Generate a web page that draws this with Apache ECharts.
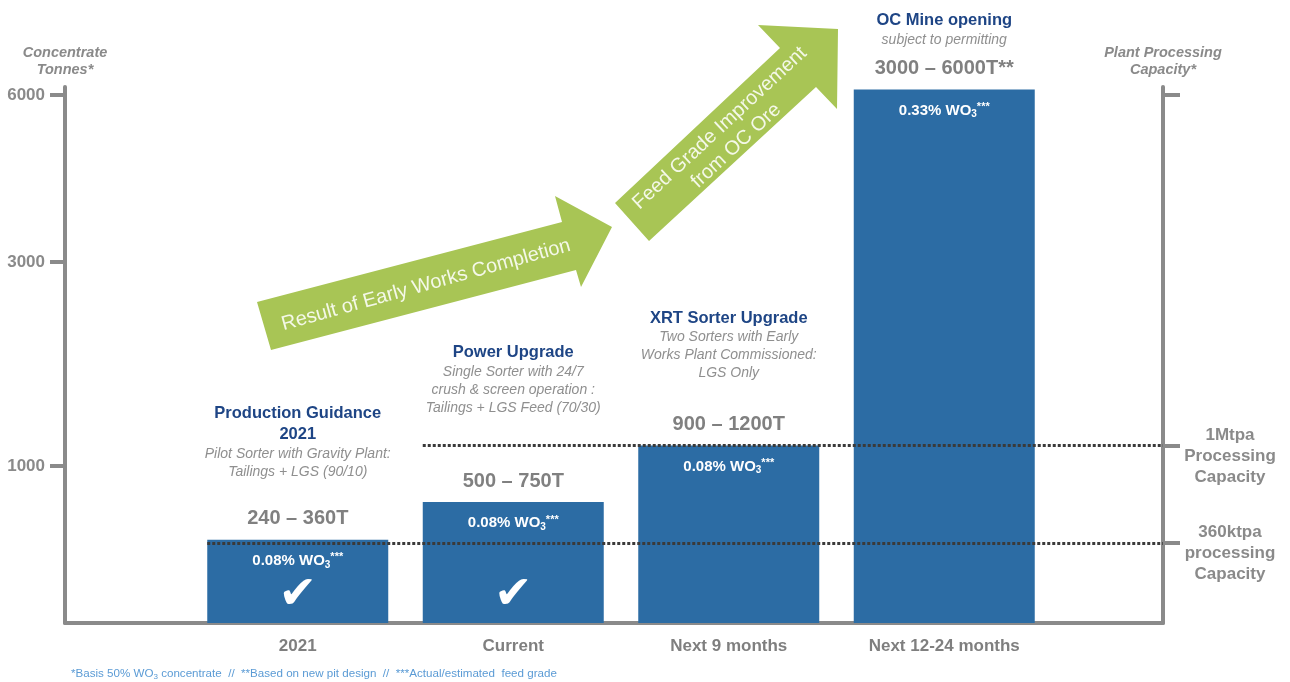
<!DOCTYPE html>
<html><head><meta charset="utf-8">
<script src="https://cdn.jsdelivr.net/npm/echarts@6/dist/echarts.min.js"></script>
<style>html,body{margin:0;padding:0;background:#fff}#c{width:1290px;height:682px}</style>
</head><body><div id="c"></div>
<script>
// ---------------- data ----------------
const categories = ['2021', 'Current', 'Next 9 months', 'Next 12-24 months'];
const barTonnes = [530, 770, 1200, 6100];
const rangeLabels = ['240 \u2013 360T', '500 \u2013 750T', '900 \u2013 1200T', '3000 \u2013 6000T**'];
const stageTitles = [['Production Guidance', '2021'], ['Power Upgrade'], ['XRT Sorter Upgrade'], ['OC Mine opening']];
const stageNotes = [
  ['Pilot Sorter with Gravity Plant:', 'Tailings + LGS (90/10)'],
  ['Single Sorter with 24/7', 'crush & screen operation :', 'Tailings + LGS Feed (70/30)'],
  ['Two Sorters with Early', 'Works Plant Commissioned:', 'LGS Only'],
  ['subject to permitting']
];
const feedGrades = ['0.08%', '0.08%', '0.08%', '0.33%'];
const completed = [true, true, false, false];
const yTicks = [1000, 3000, 6000];
const capacityLevels = [510, 1200];
const capacityNames = ['360ktpa\nprocessing\nCapacity', '1Mtpa\nProcessing\nCapacity'];
const capacityFromCategory = [0, 1];
const arrowTexts = ['Result of Early Works Completion', 'Feed Grade Improvement\nfrom OC Ore'];
const footnote = ['*Basis 50% WO', '3', ' concentrate  //  **Based on new pit design  //  ***Actual/estimated  feed grade'];

// ---------------- scale (piecewise, as drawn in the original) ----------------
const SCALE_T = [0, 1000, 3000, 6000];
const SCALE_U = [0, 157, 361, 528];
function scaleT(t) {
  for (let i = 1; i < SCALE_T.length; i++) {
    if (t <= SCALE_T[i] || i === SCALE_T.length - 1) {
      const f = (t - SCALE_T[i - 1]) / (SCALE_T[i] - SCALE_T[i - 1]);
      return SCALE_U[i - 1] + f * (SCALE_U[i] - SCALE_U[i - 1]);
    }
  }
}
const Y_MAX = 536;

// ---------------- layout ----------------
const W = 1290, H = 682;
const FRAME_L = 65, FRAME_R = 1163, TOP = 87, BASE = 623;
const BAR_L = 190, BAR_R = 1052, BAR_W = 181;
const FONT = '"Liberation Sans", Arial, sans-serif';
const GRAY = '#8A8A8A';
const BLUE = '#2C6CA4';
const TITLE_BLUE = '#1E4585';
const titleGap = [59, 85, 63, 40];

const tickU = yTicks.map(scaleT);
const capU = capacityLevels.map(scaleT);
const spacing = (BAR_R - BAR_L) / categories.length;
function barLeftFrac(i) {
  const px = BAR_L + (i + 0.5) * spacing - BAR_W / 2;
  return (px - FRAME_L) / (FRAME_R - FRAME_L);
}
function findIdx(arr, v) { return arr.findIndex(u => Math.abs(u - v) < 0.5); }

const chart = echarts.init(document.getElementById('c'), null, { renderer: 'canvas' });

const titleText = categories.map((c, i) => {
  const a = stageTitles[i].map(s => '{t|' + s + '}');
  const b = stageNotes[i].map(s => '{s|' + s + '}');
  return a.concat(b).join('\n');
});

const option = {
  animation: false,
  backgroundColor: '#ffffff',
  textStyle: { fontFamily: FONT },
  title: {
    text: '{a|' + footnote[0] + '}{b|' + footnote[1] + '}{a|' + footnote[2] + '}',
    left: 66, top: 662,
    textStyle: {
      fontWeight: 'normal',
      rich: {
        a: { fontSize: 11.6, fontWeight: 'normal', color: '#5B9BD5', fontFamily: FONT, lineHeight: 14 },
        b: { fontSize: 8, fontWeight: 'normal', color: '#5B9BD5', fontFamily: FONT, lineHeight: 8, verticalAlign: 'bottom' }
      }
    }
  },
  grid: [
    { left: FRAME_L, right: W - FRAME_R, top: TOP, bottom: H - BASE },
    { left: BAR_L, right: W - BAR_R, top: TOP, bottom: H - BASE }
  ],
  xAxis: [
    { type: 'value', gridIndex: 0, min: 0, max: 1,
      axisLine: { show: true, lineStyle: { color: GRAY, width: 4 } },
      axisTick: { show: false }, axisLabel: { show: false }, splitLine: { show: false } },
    { type: 'category', gridIndex: 1, data: categories,
      axisLine: { show: false }, axisTick: { show: false },
      axisLabel: { fontSize: 17, fontWeight: 'bold', color: '#7F7F7F', margin: 15, fontFamily: FONT } }
  ],
  yAxis: [
    { type: 'value', gridIndex: 0, position: 'left', min: 0, max: Y_MAX,
      name: 'Concentrate\nTonnes*', nameLocation: 'end', nameGap: 9,
      nameTextStyle: { fontSize: 14.5, fontWeight: 'bold', fontStyle: 'italic', color: GRAY, lineHeight: 17, fontFamily: FONT },
      axisLine: { show: true, lineStyle: { color: GRAY, width: 4 } },
      axisTick: { show: true, length: 15, customValues: tickU, lineStyle: { color: GRAY, width: 4 } },
      axisLabel: { customValues: tickU, fontSize: 17, fontWeight: 'bold', color: GRAY, margin: 20, fontFamily: FONT,
        formatter: v => { const i = findIdx(tickU, v); return i >= 0 ? String(yTicks[i]) : ''; } },
      splitLine: { show: false } },
    { type: 'value', gridIndex: 0, position: 'right', min: 0, max: Y_MAX,
      name: 'Plant Processing\nCapacity*', nameLocation: 'end', nameGap: 9,
      nameTextStyle: { fontSize: 14.5, fontWeight: 'bold', fontStyle: 'italic', color: GRAY, lineHeight: 17, fontFamily: FONT },
      axisLine: { show: true, lineStyle: { color: GRAY, width: 4 } },
      axisTick: { show: true, length: 17, customValues: capU.concat([tickU[tickU.length - 1]]), lineStyle: { color: GRAY, width: 4 } },
      axisLabel: { customValues: capU, fontSize: 17, fontWeight: 'bold', color: GRAY, margin: 67, align: 'center',
        lineHeight: 21, fontFamily: FONT,
        formatter: v => { const i = findIdx(capU, v); return i >= 0 ? ' \n' + capacityNames[i] : ''; } },
      splitLine: { show: false } },
    { type: 'value', gridIndex: 1, min: 0, max: Y_MAX, show: false }
  ],
  series: [
    { type: 'bar', xAxisIndex: 1, yAxisIndex: 2, barWidth: BAR_W, barGap: '-100%', z: 2,
      itemStyle: { color: BLUE },
      data: barTonnes.map(scaleT),
      label: { show: true, position: 'top', distance: 10, fontSize: 20, fontWeight: 'bold', color: '#808080', lineHeight: 22, fontFamily: FONT,
        formatter: p => rangeLabels[p.dataIndex] } },
    { type: 'bar', xAxisIndex: 1, yAxisIndex: 2, barWidth: BAR_W, barGap: '-100%', silent: true, z: 3,
      itemStyle: { color: 'rgba(0,0,0,0)' },
      data: barTonnes.map((t, i) => ({ value: scaleT(t), label: { distance: titleGap[i] } })),
      label: { show: true, position: 'top', align: 'center',
        formatter: p => titleText[p.dataIndex],
        rich: {
          t: { fontSize: 16.5, fontWeight: 'bold', color: TITLE_BLUE, lineHeight: 21, fontFamily: FONT, align: 'center' },
          s: { fontSize: 14, fontStyle: 'italic', color: '#8F8F8F', lineHeight: 18, fontFamily: FONT, align: 'center' }
        } } },
    { type: 'bar', xAxisIndex: 1, yAxisIndex: 2, barWidth: BAR_W, barGap: '-100%', silent: true, z: 3,
      itemStyle: { color: 'rgba(0,0,0,0)' },
      data: barTonnes.map(scaleT),
      label: { show: true, position: 'insideTop', distance: 12,
        formatter: p => '{m|' + feedGrades[p.dataIndex] + ' WO}{sub|3}{sup|***}',
        rich: {
          m: { fontSize: 15, fontWeight: 'bold', color: '#ffffff', lineHeight: 18, fontFamily: FONT },
          sub: { fontSize: 10, fontWeight: 'bold', color: '#ffffff', lineHeight: 10, verticalAlign: 'bottom', fontFamily: FONT },
          sup: { fontSize: 11, fontWeight: 'bold', color: '#ffffff', lineHeight: 10, verticalAlign: 'top', fontFamily: FONT }
        } } },
    { type: 'bar', xAxisIndex: 1, yAxisIndex: 2, barWidth: BAR_W, barGap: '-100%', silent: true, z: 3,
      itemStyle: { color: 'rgba(0,0,0,0)' },
      data: barTonnes.map(scaleT),
      label: { show: true, position: 'insideBottom', distance: 4, fontSize: 46, lineHeight: 46, color: '#ffffff',
        fontFamily: '"DejaVu Sans", sans-serif',
        formatter: p => completed[p.dataIndex] ? '\u2714' : '' } },
    { type: 'line', xAxisIndex: 0, yAxisIndex: 0, data: [], z: 6,
      markLine: {
        silent: true, symbol: ['none', 'none'], z: 6,
        label: { show: false },
        lineStyle: { color: '#3A3A3A', width: 3, type: [3, 2], cap: 'butt' },
        data: capU.map((u, i) => [{ coord: [barLeftFrac(capacityFromCategory[i]), u] }, { coord: [1, u] }])
      } }
  ],
  graphic: [
    { type: 'polygon', z: 1, silent: true,
      shape: { points: [[257, 302], [562, 222], [555, 196], [612, 227], [581, 287], [576, 270], [271, 350]] },
      style: { fill: '#A8C555' } },
    { type: 'polygon', z: 1, silent: true,
      shape: { points: [[615, 203], [780, 48], [758, 25], [838, 29], [837, 109], [816, 87], [649, 241]] },
      style: { fill: '#A8C555' } },
    { type: 'text', z: 2, silent: true, x: 426, y: 285, rotation: 15.5 * Math.PI / 180,
      style: { text: arrowTexts[0], fill: '#F4F8E8', font: '20px ' + FONT,
        align: 'center', verticalAlign: 'middle', textAlign: 'center', textVerticalAlign: 'middle' } },
    { type: 'text', z: 2, silent: true, x: 728, y: 137, rotation: 42.8 * Math.PI / 180,
      style: { text: arrowTexts[1], fill: '#F4F8E8', font: '20px ' + FONT, lineHeight: 24,
        align: 'center', verticalAlign: 'middle', textAlign: 'center', textVerticalAlign: 'middle' } }
  ]
};
chart.setOption(option);
</script>
</body></html>
